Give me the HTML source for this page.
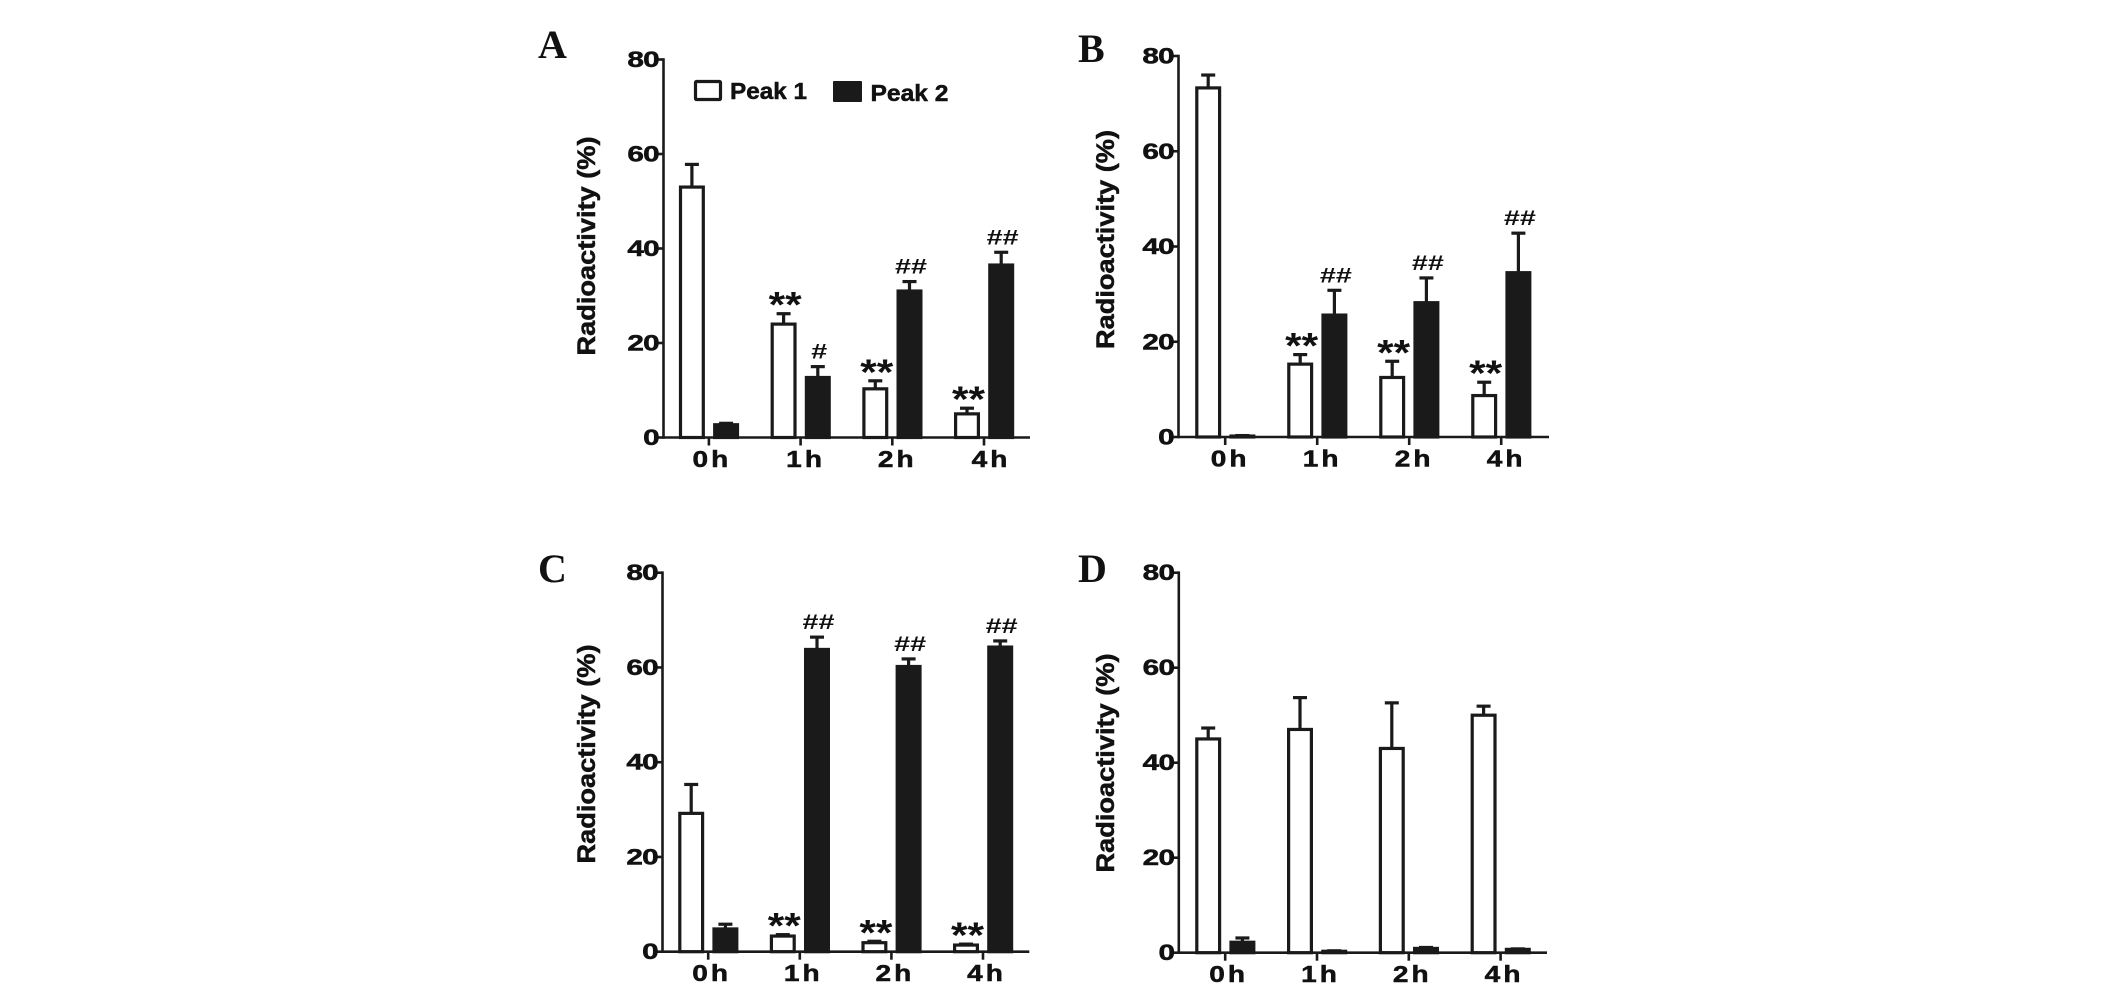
<!DOCTYPE html>
<html lang="en">
<head>
<meta charset="utf-8">
<title>Radioactivity by time, panels A-D</title>
<style>
html,body{margin:0;padding:0;background:#fff;width:2126px;height:989px;overflow:hidden}
svg{display:block}
text{font-family:"Liberation Sans",sans-serif;font-weight:bold;fill:#111}
</style>
</head>
<body>
<svg id="figure" width="2126" height="989" viewBox="0 0 2126 989" xmlns="http://www.w3.org/2000/svg">
  <rect width="2126" height="989" fill="#fff"/>
  <g id="legend">
    <rect x="695.5" y="81.5" width="25" height="18" rx="1" fill="#fff" stroke="#1a1a1a" stroke-width="3.2"/>
    <text x="730" y="99" font-size="23" stroke="#111" stroke-width="0.5" textLength="77" lengthAdjust="spacingAndGlyphs">Peak 1</text>
    <rect x="833" y="81" width="29" height="21" rx="1" fill="#1a1a1a"/>
    <text x="870.5" y="101" font-size="23" stroke="#111" stroke-width="0.5" textLength="78" lengthAdjust="spacingAndGlyphs">Peak 2</text>
  </g>
</svg>
<script>
// Shared axis data
const categories = ['0h', '1h', '2h', '4h'];
const yTicks = [0, 20, 40, 60, 80];

// Panel A
const aPeak1 = [53, 24, 10.3, 5];
const aPeak1Err = [57.8, 26.2, 12, 6.2];
const aPeak2 = [2.7, 12.7, 31, 36.5];
const aPeak2Err = [3, 15, 33, 39.2];
const aPeak1Sig = ['', '**', '**', '**'];
const aPeak2Sig = ['', '#', '##', '##'];

// Panel B
const bPeak1 = [73.3, 15.3, 12.5, 8.7];
const bPeak1Err = [76, 17.3, 15.9, 11.5];
const bPeak2 = [0.2, 25.6, 28.2, 34.5];
const bPeak2Err = [0.3, 30.8, 33.4, 42.8];
const bPeak1Sig = ['', '**', '**', '**'];
const bPeak2Sig = ['', '##', '##', '##'];

// Panel C
const cPeak1 = [29.2, 3.3, 1.9, 1.4];
const cPeak1Err = [35.3, 3.6, 2.2, 1.6];
const cPeak2 = [4.8, 63.8, 60.2, 64.3];
const cPeak2Err = [5.8, 66.4, 61.8, 65.6];
const cPeak1Sig = ['', '**', '**', '**'];
const cPeak2Sig = ['', '##', '##', '##'];

// Panel D
const dPeak1 = [45, 47, 43, 50];
const dPeak1Err = [47.3, 53.7, 52.6, 51.9];
const dPeak2 = [2.2, 0.3, 0.9, 0.7];
const dPeak2Err = [3.1, 0.4, 1.1, 0.8];
const dPeak1Sig = ['', '', '', ''];
const dPeak2Sig = ['', '', '', ''];

const NS = 'http://www.w3.org/2000/svg';
const INK = '#1a1a1a';
const svg = document.getElementById('figure');

function make(tag, parent, props) {
  const el = document.createElementNS(NS, tag);
  for (const k in props) el.setAttribute(k, props[k]);
  parent.appendChild(el);
  return el;
}

function drawPanel(letter, layout, peak1, peak1Err, peak2, peak2Err, sig1, sig2) {
  const id = letter.toLowerCase();
  const g = make('g', svg, {});
  
  

  const yScale = v => layout.y0 + (layout.y80 - layout.y0) * v / 80;
  const xScale = i => layout.x0 + layout.step * i;

  const letterEl = make('text', g, {
    x: layout.letterX, y: layout.letterY, 'font-size': 40,
    style: 'font-family:"Liberation Serif",serif'
  });
  letterEl.textContent = letter;
  
  

  const title = make('text', g, {
    transform: 'translate(' + layout.titleX + ',' + layout.titleY + ') rotate(-90)',
    'text-anchor': 'middle', 'font-size': 25, stroke: '#111', 'stroke-width': 0.5,
    textLength: 219, lengthAdjust: 'spacingAndGlyphs'
  });
  title.textContent = 'Radioactivity (%)';
  
  

  // series
  categories.forEach((cat, i) => {
    const series = [
      { name: 'peak-1', v: peak1[i], e: peak1Err[i], s: sig1[i], dx: -17, fill: '#fff' },
      { name: 'peak-2', v: peak2[i], e: peak2Err[i], s: sig2[i], dx: 17.2, fill: INK }
    ];
    series.forEach(d => {
      const cx = xScale(i) + d.dx;
      const top = yScale(d.v);
      const errTop = yScale(d.e);

      const stem = make('line', g, { x1: cx, x2: cx, y1: top, y2: errTop, stroke: INK, 'stroke-width': 3.2 });
      
      

      const cap = make('line', g, { x1: cx - 7, x2: cx + 7, y1: errTop, y2: errTop, stroke: INK, 'stroke-width': 3.2 });
      
      

      const bar = make('rect', g, {
        x: cx - 11.4, y: top, width: 22.8, height: Math.max(layout.y0 - top, 0),
        fill: d.fill, stroke: INK, 'stroke-width': 3.2
      });
      
      

      if (d.s) {
        const isStar = d.s.charAt(0) === '*';
        const cy = errTop - (isStar ? 17 : 15);
        const w = d.s.length * (isStar ? 16.5 : 16);
        const mark = make('text', g, {
          x: cx + 1.5, y: cy + (isStar ? 20.5 : 7), 'text-anchor': 'middle',
          'font-size': isStar ? 36 : 21,
          textLength: w, lengthAdjust: 'spacingAndGlyphs'
        });
        mark.textContent = d.s;
        
        
      }
    });

    const tick = make('line', g, { x1: xScale(i), x2: xScale(i), y1: layout.y0, y2: layout.y0 + 8, stroke: INK, 'stroke-width': 2.6 });
    
    

    const lab = make('text', g, {
      transform: 'translate(' + (xScale(i) + layout.labelDx[i]) + ',' + (layout.y0 + 29.5) + ') scale(1.22,1)',
      'text-anchor': 'middle', 'font-size': 23, 'letter-spacing': 2.5, stroke: '#111', 'stroke-width': 0.5
    });
    lab.textContent = cat;
    
    
  });

  // axes
  const yAxis = make('line', g, { x1: layout.axisX, x2: layout.axisX, y1: layout.y80 - 1.3, y2: layout.y0 + 1.3, stroke: INK, 'stroke-width': 2.6 });
  
  

  const xAxis = make('line', g, { x1: layout.axisX, x2: layout.xEnd, y1: layout.y0, y2: layout.y0, stroke: INK, 'stroke-width': 2.6 });
  
  

  yTicks.forEach(t => {
    const y = yScale(t);
    const tk = make('line', g, { x1: layout.axisX - 8, x2: layout.axisX, y1: y, y2: y, stroke: INK, 'stroke-width': 2.6 });
    
    

    const lab = make('text', g, {
      transform: 'translate(' + (layout.axisX - 4.5) + ',' + (y + 7.5) + ') scale(1.35,1)',
      'text-anchor': 'end', 'font-size': 22, 'letter-spacing': -0.5, stroke: '#111', 'stroke-width': 0.5
    });
    lab.textContent = t;
    
    
  });
}

drawPanel('A', { axisX: 663.5, xEnd: 1030, y0: 437.5, y80: 59.5, x0: 708.9, step: 91.7, labelDx: [3, 5, 5, 7], letterX: 538, letterY: 58, titleX: 595, titleY: 246 },
  aPeak1, aPeak1Err, aPeak2, aPeak2Err, aPeak1Sig, aPeak2Sig);
drawPanel('B', { axisX: 1178.5, xEnd: 1549, y0: 437, y80: 56, x0: 1225.2, step: 92, labelDx: [5, 5, 5, 5], letterX: 1078, letterY: 62, titleX: 1114, titleY: 239.5 },
  bPeak1, bPeak1Err, bPeak2, bPeak2Err, bPeak1Sig, bPeak2Sig);
drawPanel('C', { axisX: 662.5, xEnd: 1029.3, y0: 951.7, y80: 572.7, x0: 708.2, step: 91.6, labelDx: [3.5, 3.5, 3.5, 3.5], letterX: 538, letterY: 582, titleX: 595, titleY: 754 },
  cPeak1, cPeak1Err, cPeak2, cPeak2Err, cPeak1Sig, cPeak2Sig);
drawPanel('D', { axisX: 1178.8, xEnd: 1547, y0: 952.7, y80: 572.7, x0: 1225.2, step: 91.8, labelDx: [3.5, 3.5, 3.5, 3.5], letterX: 1078, letterY: 582, titleX: 1114, titleY: 763 },
  dPeak1, dPeak1Err, dPeak2, dPeak2Err, dPeak1Sig, dPeak2Sig);
</script>
</body>
</html>
